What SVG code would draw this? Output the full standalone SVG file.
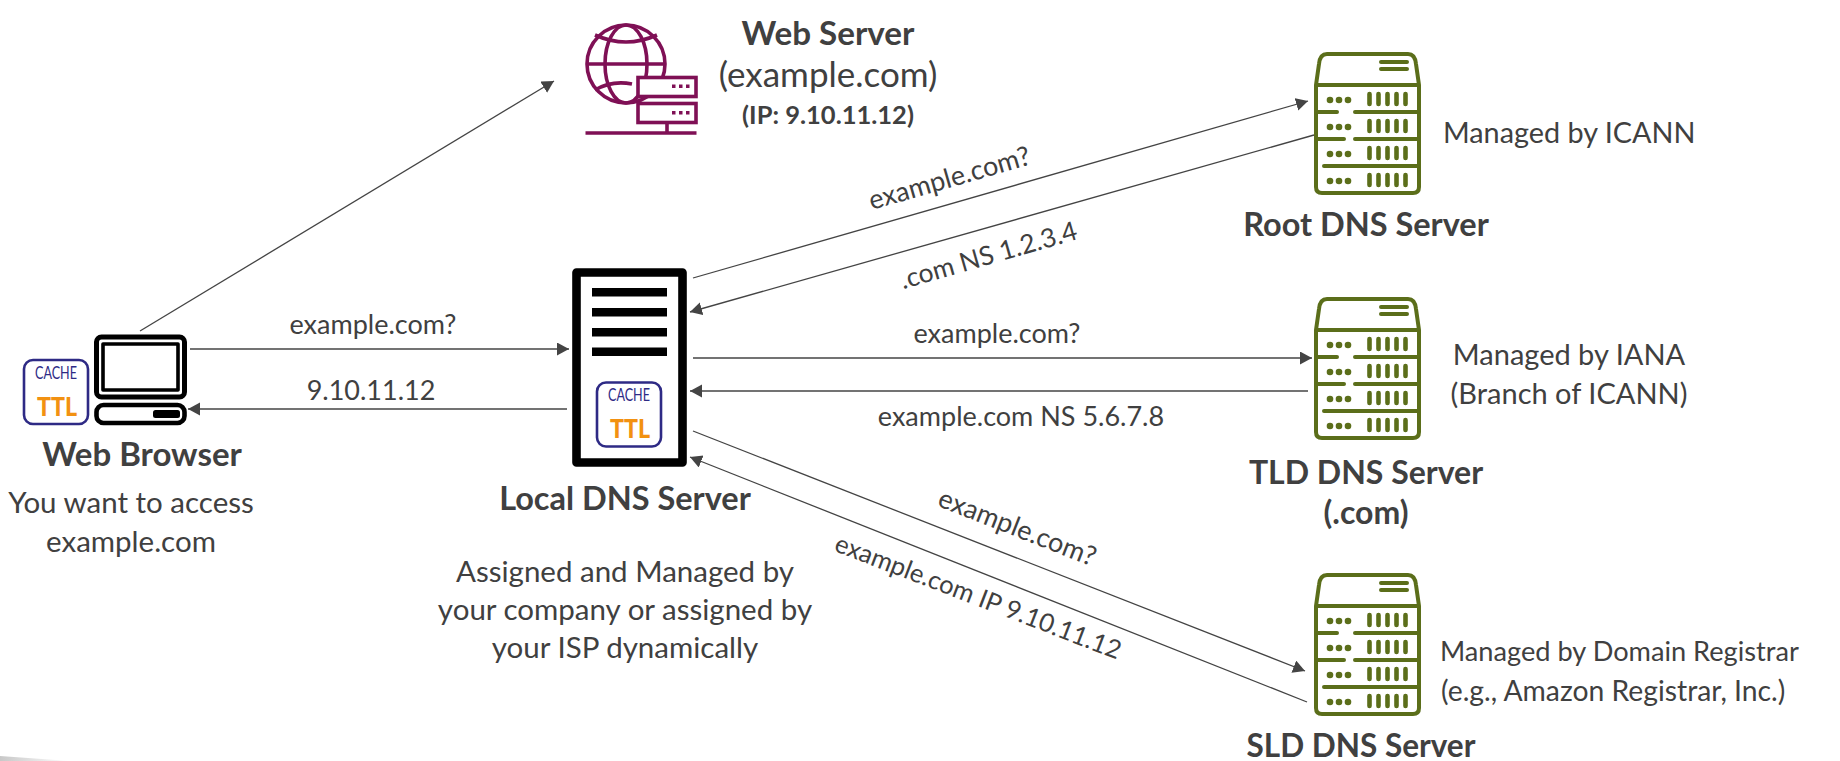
<svg xmlns="http://www.w3.org/2000/svg" width="1840" height="761" viewBox="0 0 1840 761">
<style>
text{font-family:"Lato","Liberation Sans",sans-serif;fill:#404040;text-anchor:middle}
.t{font-size:29.500px}
.b{font-size:32.500px;font-weight:700}
.l{font-size:27px}
.ip{font-size:25.500px;font-weight:700}
.s{text-anchor:start}
.conn line{stroke:#444;stroke-width:1.3;fill:none}
.ar{marker-end:url(#a)}
.cb{fill:#fff;stroke:#2e2a85;stroke-width:2.6}
.ca{font-size:17px;fill:#2e2a85}
.tl{font-size:26px;font-weight:900;fill:#f29111}
.k{fill:none;stroke:#000;stroke-linejoin:round}
.g{fill:none;stroke:#5b6e1a;stroke-width:4;stroke-linecap:round;stroke-linejoin:round}
.gb{fill:none;stroke:#5b6e1a;stroke-width:4.6;stroke-linecap:round}
.gd{fill:#5b6e1a}
.m{fill:none;stroke:#7f1055;stroke-width:3.6}
.mf{fill:#fff;stroke:#7f1055;stroke-width:3.6}
.md{fill:#7f1055}
</style>
<defs>
<marker id="a" markerUnits="userSpaceOnUse" markerWidth="14" markerHeight="14" refX="12" refY="6.5" orient="auto"><path d="M0 0L12 6.5L0 13Z" fill="#444"/></marker>
<linearGradient id="sl" x1="0" x2="1" y1="0" y2="0"><stop offset="0" stop-color="#c8c8c8"/><stop offset="1" stop-color="#fff"/></linearGradient>
<g id="srv">
<path class="g" d="M1316 85L1319 64Q1320 54 1327 54L1408 54Q1415 54 1416 64L1419 85M1316 85L1419 85L1419 187Q1419 193 1413 193L1322 193Q1316 193 1316 187Z"/>
<path class="g" d="M1381 62H1407M1381 69H1407M1318 112H1337M1355 112H1418M1318 139H1344M1355 139H1418M1324 166H1418"/>
<g class="gd"><circle cx="1330" cy="100" r="3.3"/><circle cx="1339" cy="100" r="3.3"/><circle cx="1348" cy="100" r="3.3"/><circle cx="1330" cy="127" r="3.3"/><circle cx="1339" cy="127" r="3.3"/><circle cx="1348" cy="127" r="3.3"/><circle cx="1330" cy="154" r="3.3"/><circle cx="1339" cy="154" r="3.3"/><circle cx="1348" cy="154" r="3.3"/><circle cx="1330" cy="181" r="3.3"/><circle cx="1339" cy="181" r="3.3"/><circle cx="1348" cy="181" r="3.3"/></g>
<path class="gb" d="M1369.5 94V104M1378.5 94V104M1387.5 94V104M1396.5 94V104M1405.5 94V104M1369.5 121V131M1378.5 121V131M1387.5 121V131M1396.5 121V131M1405.5 121V131M1369.5 148V158M1378.5 148V158M1387.5 148V158M1396.5 148V158M1405.5 148V158M1369.5 175V185M1378.5 175V185M1387.5 175V185M1396.5 175V185M1405.5 175V185"/>
</g>
</defs>
<rect width="1840" height="761" fill="#fff"/>
<polygon points="0,756 70,761 0,761" fill="url(#sl)"/>
<g class="conn" id="connectors">
<line class="ar" x1="140" y1="331" x2="554" y2="81"/>
<line class="ar" x1="190" y1="349" x2="569" y2="349"/>
<line class="ar" x1="567" y1="409" x2="188" y2="409"/>
<line class="ar" x1="693" y1="278" x2="1308" y2="101"/>
<line class="ar" x1="1314" y1="135" x2="690" y2="312"/>
<line class="ar" x1="693" y1="358" x2="1312" y2="358"/>
<line class="ar" x1="1308" y1="391" x2="690" y2="391"/>
<line class="ar" x1="693" y1="431" x2="1305" y2="671"/>
<line class="ar" x1="1307" y1="702" x2="690" y2="457"/>
</g>
<g id="label-browser-req"><text class="l" x="373" y="334">example.com?</text></g>
<g id="label-browser-res"><text class="l" x="371" y="400">9.10.11.12</text></g>
<g id="label-root-req"><text class="l" transform="translate(952 187) rotate(-16)">example.com?</text></g>
<g id="label-root-res"><text class="l" transform="translate(991 264) rotate(-16)" style="font-size:26.400px">.com NS 1.2.3.4</text></g>
<g id="label-tld-req"><text class="l" x="997" y="343">example.com?</text></g>
<g id="label-tld-res"><text class="l" x="1021" y="426">example.com NS 5.6.7.8</text></g>
<g id="label-sld-req"><text class="l" transform="translate(1014 536) rotate(21.4)">example.com?</text></g>
<g id="label-sld-res"><text class="l" transform="translate(975 605) rotate(21)" style="font-size:25.600px">example.com IP 9.10.11.12</text></g>

<g id="web-browser">
<rect class="k" x="96.5" y="337" width="88" height="60" rx="5" stroke-width="5"/>
<rect class="k" x="103" y="344" width="75" height="46" stroke-width="3.6"/>
<rect class="k" x="96.5" y="405" width="88" height="18" rx="7" stroke-width="4.6"/>
<rect x="153" y="410" width="27" height="8" rx="2.5" fill="#000"/>
<rect class="cb" x="24" y="360" width="64" height="64" rx="9"/>
<text class="ca" x="56" y="379" textLength="42" lengthAdjust="spacingAndGlyphs">CACHE</text>
<text class="tl" x="57" y="416" textLength="40" lengthAdjust="spacingAndGlyphs">TTL</text>
<text class="b" x="142" y="466" style="font-size:33px">Web Browser</text>
<text class="t" x="131" y="513">You want to access</text>
<text class="t" x="131" y="552">example.com</text>
</g>

<g id="local-dns">
<rect class="k" x="576.5" y="272.5" width="106" height="190" stroke-width="8.6"/>
<path d="M592 288H667V296.500H592ZM592 308H667V316.500H592ZM592 328H667V336.500H592ZM592 347.500H667V356H592Z" fill="#000"/>
<rect class="cb" x="597" y="382.500" width="64" height="64" rx="9"/>
<text class="ca" x="629" y="401" textLength="42" lengthAdjust="spacingAndGlyphs">CACHE</text>
<text class="tl" x="630" y="438" textLength="40" lengthAdjust="spacingAndGlyphs">TTL</text>
<text class="b" x="625" y="510">Local DNS Server</text>
<text class="t" x="625" y="582">Assigned and Managed by</text>
<text class="t" x="625" y="620">your company or assigned by</text>
<text class="t" x="625" y="658">your ISP dynamically</text>
</g>

<g id="web-server">
<circle class="m" cx="626" cy="64" r="39"/>
<ellipse class="m" cx="626" cy="64" rx="21" ry="39"/>
<path class="m" d="M587 64H665M595 35Q626 49 657 35M595 90Q612 80 632 84"/>
<rect class="mf" x="638" y="77.500" width="58" height="19"/>
<rect class="mf" x="638" y="103.500" width="58" height="19"/>
<g class="md"><rect x="672" y="84.500" width="3.500" height="3.500"/><rect x="679" y="84.500" width="3.500" height="3.500"/><rect x="686" y="84.500" width="3.500" height="3.500"/><rect x="672" y="111" width="3.500" height="3.500"/><rect x="679" y="111" width="3.500" height="3.500"/><rect x="686" y="111" width="3.500" height="3.500"/></g>
<path class="m" d="M667 122V133M585.500 133H696.500"/>
<text class="b" x="828" y="45" style="font-size:33.200px">Web Server</text>
<text class="t" x="828" y="87" style="font-size:35px">(example.com)</text>
<text class="ip" x="828" y="124">(IP: 9.10.11.12)</text>
</g>

<g id="root-dns">
<use href="#srv"/>
<text class="b" x="1366" y="236">Root DNS Server</text>
<text class="t s" x="1443" y="143" style="font-size:28.800px">Managed by ICANN</text>
</g>
<g id="tld-dns">
<use href="#srv" y="245"/>
<text class="b" x="1366" y="484" style="font-size:32px">TLD DNS Server</text>
<text class="b" x="1366" y="524" style="font-size:32px">(.com)</text>
<text class="t" x="1569" y="365" style="font-size:29px">Managed by IANA</text>
<text class="t" x="1569" y="404" style="font-size:29px">(Branch of ICANN)</text>
</g>
<g id="sld-dns">
<use href="#srv" y="521"/>
<text class="b" x="1361" y="757" style="font-size:31.500px">SLD DNS Server</text>
<text class="t s" x="1440" y="661" style="font-size:27.200px">Managed by Domain Registrar</text>
<text class="t s" x="1441" y="701" style="font-size:28.300px">(e.g., Amazon Registrar, Inc.)</text>
</g>
</svg>
